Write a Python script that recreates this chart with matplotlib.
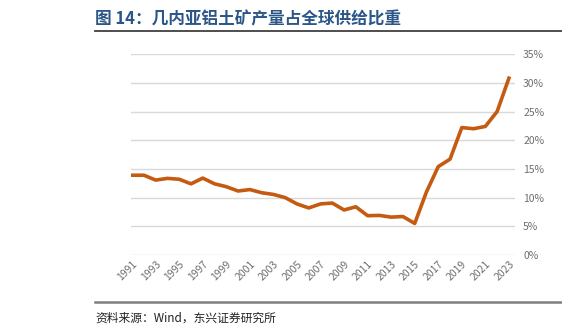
import matplotlib
matplotlib.use("Agg")
import matplotlib.pyplot as plt
from matplotlib.lines import Line2D
from matplotlib.ticker import PercentFormatter

plt.rcParams['font.family'] = ['Noto Sans CJK SC', 'DejaVu Sans']

# data
years = list(range(1991, 2024))
share = [13.9, 13.9, 13.05, 13.35, 13.2, 12.4, 13.4, 12.4, 11.9, 11.15,
         11.4, 10.85, 10.55, 10.0, 8.9, 8.2, 8.9, 9.05, 7.85, 8.4, 6.85,
         6.9, 6.6, 6.7, 5.5, 11.0, 15.4, 16.7, 22.2, 22.0, 22.4, 25.0, 30.8]
tick_years = years[::2]
title = "图 14：几内亚铝土矿产量占全球供给比重"
source = "资料来源：Wind，东兴证券研究所"

fig = plt.figure(figsize=(5.62, 3.34), dpi=100)
ax = fig.add_axes([0.233, 0.2365, 0.683, 0.6015])

ax.plot(years, [v / 100 for v in share], color="#C55A11", lw=2.6,
        solid_joinstyle="round", zorder=3)

ax.set_xlim(1990.9, 2023.5)
ax.set_ylim(0, 0.35)
ax.set_yticks([i * 0.05 for i in range(8)])
ax.yaxis.set_major_formatter(PercentFormatter(1.0, decimals=0))
ax.yaxis.tick_right()
ax.set_xticks(tick_years)
ax.set_xticklabels([str(y) for y in tick_years], rotation=45,
                   ha="right", rotation_mode="anchor")
ax.tick_params(axis="both", length=0, labelsize=7.5, colors="#6E6E6E")
ax.tick_params(axis="y", pad=6)
ax.tick_params(axis="x", pad=3)
ax.grid(axis="y", color="#D9D9D9", lw=1)
ax.set_axisbelow(True)
for s in ax.spines.values():
    s.set_visible(False)

# title and source
fig.text(95 / 562, 1 - 19 / 334, title, fontsize=12, fontweight="bold",
         color="#2B5687", va="center", ha="left")
fig.add_artist(Line2D([95 / 562, 1], [1 - 30.5 / 334] * 2, color="#404040",
                      lw=1.3, transform=fig.transFigure))
fig.add_artist(Line2D([95 / 562, 1], [1 - 302 / 334] * 2, color="#7F7F7F",
                      lw=1.8, transform=fig.transFigure))
fig.text(95 / 562, 1 - 318 / 334, source, fontsize=8.5, color="#222222",
         va="center", ha="left")

fig.savefig("out.png", dpi=100)
